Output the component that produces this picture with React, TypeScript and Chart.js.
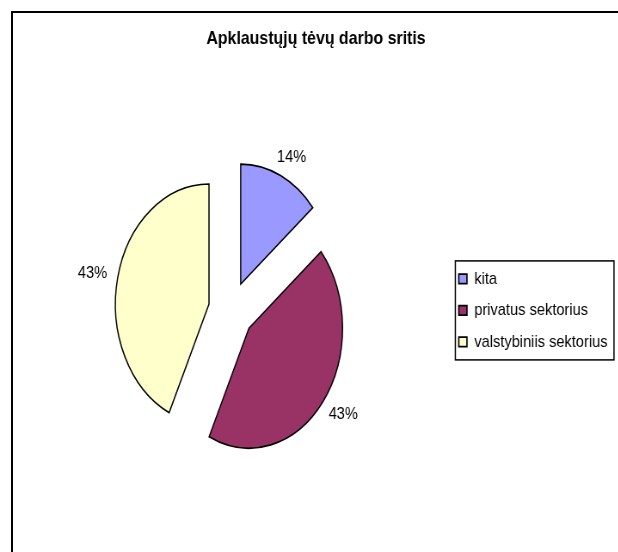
import React, { useEffect, useRef } from 'react';
import { Chart, registerables } from 'chart.js';

Chart.register(...registerables);

// ---- data ----
const TITLE = 'Apklaustųjų tėvų darbo sritis';
const categories = ['kita', 'privatus sektorius', 'valstybiniis sektorius'];
const shares = [14, 43, 43];
const sliceColors = ['#9999FF', '#993366', '#FFFFCC'];

// ---- style constants ----
const FONT = "'Liberation Sans', Arial, sans-serif";
const CANVAS_W = 735;
const CANVAS_H = 552;
const SCALE_X = 0.86; // horizontal compression of the whole drawing
const PIE_SQUASH = 0.907; // extra horizontal squash of the pie (elliptical pie)
const PIE_RADIUS = 120;
const EXPLODE = 29;
const LABEL_GAP = 13;
const LABEL_FONT_SIZE = 17;

const piePlugin = {
  id: 'explodedEllipsePie',
  beforeDatasetDraw(chart: any, args: any) {
    const ctx = chart.ctx;
    args.meta.data.forEach((el: any) => {
      const mid = (el.startAngle + el.endAngle) / 2;
      ctx.save();
      ctx.translate(el.x, el.y);
      ctx.scale(PIE_SQUASH, 1);
      ctx.translate(-el.x, -el.y);
      ctx.translate(Math.cos(mid) * EXPLODE, Math.sin(mid) * EXPLODE);
      el.draw(ctx);
      ctx.restore();
    });
    return false;
  },
  afterDatasetsDraw(chart: any) {
    const meta = chart.getDatasetMeta(0);
    const ctx = chart.ctx;
    const values: number[] = chart.data.datasets[0].data;
    const total = values.reduce((a, b) => a + b, 0);
    ctx.save();
    ctx.font = `${LABEL_FONT_SIZE}px ${FONT}`;
    ctx.fillStyle = '#000';
    ctx.textAlign = 'center';
    ctx.textBaseline = 'middle';
    meta.data.forEach((el: any, i: number) => {
      const mid = (el.startAngle + el.endAngle) / 2;
      const dx = Math.cos(mid);
      const dy = Math.sin(mid);
      const r = el.outerRadius + EXPLODE;
      const ex = el.x + dx * r * PIE_SQUASH;
      const ey = el.y + dy * r;
      const text = Math.round((values[i] / total) * 100) + '%';
      const w = ctx.measureText(text).width;
      const h = 14;
      ctx.fillText(text, ex + dx * (LABEL_GAP + w / 2), ey + dy * (LABEL_GAP + h / 2));
    });
    ctx.restore();
  },
  afterDraw(chart: any) {
    const lg = chart.legend;
    if (!lg || !lg.legendHitBoxes || !lg.legendHitBoxes.length) return;
    const hb = lg.legendHitBoxes;
    const left = Math.min(...hb.map((b: any) => b.left)) - 4;
    const right = Math.max(...hb.map((b: any) => b.left + b.width)) + 7.5;
    const top = Math.min(...hb.map((b: any) => b.top)) - 9.5;
    const bottom = Math.max(...hb.map((b: any) => b.top + b.height)) + 9.5;
    const ctx = chart.ctx;
    ctx.save();
    ctx.strokeStyle = '#000';
    ctx.lineWidth = 1.5;
    ctx.strokeRect(left, top, right - left, bottom - top);
    ctx.restore();
  },
};

export default function App() {
  const canvasRef = useRef<HTMLCanvasElement | null>(null);

  useEffect(() => {
    if (!canvasRef.current) return;
    const chart = new Chart(canvasRef.current, {
      type: 'pie',
      data: {
        labels: categories,
        datasets: [
          {
            data: shares,
            backgroundColor: sliceColors,
            borderColor: '#000',
            borderWidth: 1.6,
            borderJoinStyle: 'miter',
            radius: PIE_RADIUS,
          } as any,
        ],
      },
      options: {
        responsive: true,
        maintainAspectRatio: false,
        animation: false,
        events: [],
        layout: { padding: { left: 18.4, right: 18.6, top: 17.6, bottom: 0 } },
        plugins: {
          title: {
            display: true,
            text: TITLE,
            color: '#000',
            font: { family: FONT, size: 18.5, weight: 'bold', lineHeight: 1.2 },
            padding: { top: 10, bottom: 19 },
          },
          legend: {
            display: true,
            position: 'right',
            fullSize: false,
            labels: {
              boxWidth: 9.5,
              boxHeight: 9.5,
              padding: 14.5,
              color: '#000',
              font: { family: FONT, size: 17 },
            },
          },
          tooltip: { enabled: false },
        },
      } as any,
      plugins: [piePlugin],
    });
    return () => chart.destroy();
  }, []);

  return (
    <div
      style={{
        position: 'fixed',
        left: 0,
        top: 0,
        width: 618,
        height: 552,
        overflow: 'hidden',
        background: '#fff',
      }}
    >
      <div
        style={{
          position: 'absolute',
          left: 11,
          top: 11,
          width: 700,
          height: 700,
          border: '2px solid #000',
          boxSizing: 'border-box',
        }}
      />
      <div
        style={{
          position: 'absolute',
          left: 0,
          top: 0,
          width: CANVAS_W,
          height: CANVAS_H,
          transform: `scaleX(${SCALE_X})`,
          transformOrigin: '0 0',
        }}
      >
        <canvas ref={canvasRef} />
      </div>
    </div>
  );
}
